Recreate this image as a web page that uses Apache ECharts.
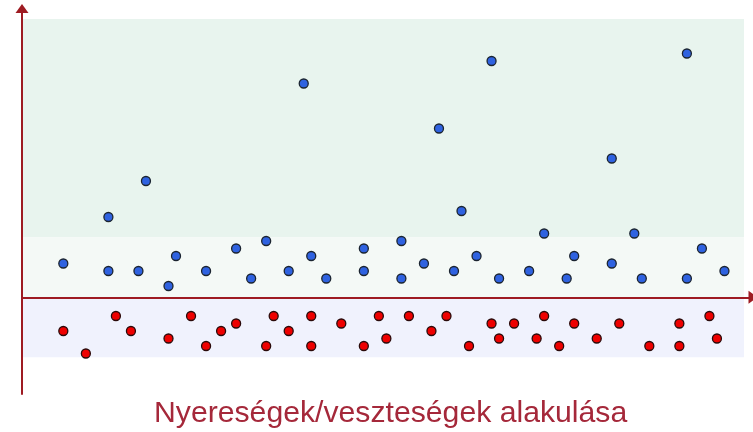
<!DOCTYPE html>
<html>
<head>
<meta charset="utf-8">
<script src="https://cdn.jsdelivr.net/npm/echarts@6/dist/echarts.min.js"></script>
<style>html,body{margin:0;padding:0;background:#fff;}#c{width:753px;height:432px;}</style>
</head>
<body>
<div id="c"></div>
<script>
var titleText = 'Nyereségek/veszteségek alakulása';
var gainX = [0,6,6,10,11,14,15,19,23,25,27,30,32,33,35,40,40,45,45,48,50,52,53,55,57,58,62,64,67,68,73,73,76,77,83,83,85,88];
var gainY = [4.5,10.7,3.5,3.5,15.5,1.5,5.5,3.5,6.5,2.5,7.5,3.5,28.5,5.5,2.5,6.5,3.5,7.5,2.5,4.5,22.5,3.5,11.5,5.5,31.5,2.5,3.5,8.5,2.5,5.5,18.5,4.5,8.5,2.5,32.5,2.5,6.5,3.5];
var lossX = [0,3,7,9,14,17,19,21,23,27,28,30,33,33,37,40,42,43,46,49,51,54,57,58,60,63,64,66,68,71,74,78,82,82,86,87];
var lossY = [-4.5,-7.5,-2.5,-4.5,-5.5,-2.5,-6.5,-4.5,-3.5,-6.5,-2.5,-4.5,-2.5,-6.5,-3.5,-6.5,-2.5,-5.5,-2.5,-4.5,-2.5,-6.5,-3.5,-5.5,-3.5,-5.5,-2.5,-6.5,-3.5,-5.5,-3.5,-6.5,-3.5,-6.5,-2.5,-5.5];
var bandBounds = [-8, 0, 8, 37.1];
var bandXEnd = 90.6;

function pairs(xs, ys){ return xs.map(function(x,i){ return [x, ys[i]]; }); }

var axisColor = '#9e1b22';
var chart = echarts.init(document.getElementById('c'));
chart.setOption({
  animation: false,
  title: {
    text: titleText,
    left: 149, top: 394,
    textStyle: {fontFamily: 'Liberation Sans, Arial, sans-serif', fontSize: 30.2, fontWeight: 'normal', color: '#a5283a'}
  },
  grid: {left: 22, right: 0, top: 8.5, bottom: 38},
  xAxis: {
    type: 'value', min: -5.5, max: 91.8, z: 5,
    splitLine: {show: false}, axisTick: {show: false}, axisLabel: {show: false},
    axisLine: {show: true, onZero: true, symbol: ['none', 'triangle'], symbolSize: [13, 9], lineStyle: {color: axisColor, width: 2}}
  },
  yAxis: {
    type: 'value', min: -12.9, max: 38.5, z: 5,
    splitLine: {show: false}, axisTick: {show: false}, axisLabel: {show: false},
    axisLine: {show: true, onZero: false, symbol: ['none', 'triangle'], symbolSize: [13, 9], lineStyle: {color: axisColor, width: 2}}
  },
  series: [
    {
      type: 'scatter', data: [], silent: true,
      markArea: {
        silent: true,
        data: [
          [{xAxis: -5.5, yAxis: bandBounds[2], itemStyle: {color: '#e8f4ee'}}, {xAxis: bandXEnd, yAxis: bandBounds[3]}],
          [{xAxis: -5.5, yAxis: bandBounds[1], itemStyle: {color: '#f4f9f6'}}, {xAxis: bandXEnd, yAxis: bandBounds[2]}],
          [{xAxis: -5.5, yAxis: bandBounds[0], itemStyle: {color: '#f0f2fd'}}, {xAxis: bandXEnd, yAxis: bandBounds[1]}]
        ]
      }
    },
    {
      type: 'scatter', data: pairs(gainX, gainY), symbolSize: 9, z: 6,
      itemStyle: {color: '#2f62e0', borderColor: '#1b2430', borderWidth: 1.3, opacity: 1}
    },
    {
      type: 'scatter', data: pairs(lossX, lossY), symbolSize: 9, z: 6,
      itemStyle: {color: '#ee0000', borderColor: '#2a0a0a', borderWidth: 1.3, opacity: 1}
    }
  ]
});
</script>
</body>
</html>
